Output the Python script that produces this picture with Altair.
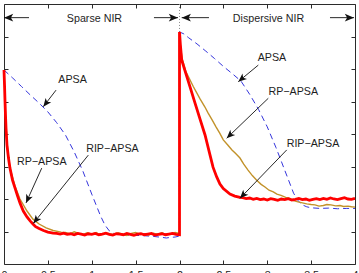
import math
import altair as alt
import pandas as pd

# Plot area size (pixels) and scale domains
W, H = 351, 260
X_DOMAIN = [0, 4]
Y_DOMAIN = [0, 8]
x_ticks = [0, 0.5, 1, 1.5, 2, 2.5, 3, 3.5, 4]
y_ticks = [1, 2, 3, 4, 5, 6, 7]

# ---- APSA (blue dashed) ----
apsa_t = [0.00, 0.10, 0.20, 0.30, 0.40, 0.50, 0.60, 0.70, 0.80, 0.90, 1.00, 1.10,
          1.15, 1.20, 1.25, 1.30, 1.40, 1.50, 1.60, 1.70, 1.80, 1.85, 1.90, 1.95, 2.00,
          2.00, 2.05, 2.10, 2.20, 2.30, 2.40, 2.50, 2.60, 2.70, 2.80, 2.90, 3.00, 3.10,
          3.20, 3.30, 3.35, 3.40, 3.45, 3.50, 3.60, 3.70, 3.80, 3.90, 4.00]
apsa_v = [5.97, 5.72, 5.46, 5.20, 4.95, 4.68, 4.35, 3.97, 3.45, 2.85, 2.15, 1.48,
          1.20, 1.02, 0.94, 0.91, 0.89, 0.88, 0.87, 0.85, 0.82, 0.80, 0.82, 0.83, 0.86,
          7.14, 7.08, 6.97, 6.77, 6.55, 6.32, 6.08, 5.86, 5.63, 5.22, 4.76, 4.22, 3.58,
          2.88, 2.18, 1.95, 1.82, 1.76, 1.73, 1.71, 1.72, 1.70, 1.71, 1.71]

# ---- RP-APSA (gold, noisy) ----
rp_t = [0.000, 0.006, 0.011, 0.017, 0.023, 0.040, 0.068, 0.125, 0.182, 0.262, 0.330,
        0.400, 0.480, 0.560, 0.650,
        0.70, 0.75, 0.80, 0.85, 0.90, 0.95, 1.00, 1.05, 1.10, 1.15, 1.20, 1.25, 1.30,
        1.35, 1.40, 1.45, 1.50, 1.55, 1.60, 1.65, 1.70, 1.75, 1.80, 1.85, 1.90, 1.95, 2.00,
        2.000, 2.010, 2.028, 2.074, 2.157, 2.234, 2.290, 2.325, 2.370, 2.416, 2.460, 2.499,
        2.550, 2.598, 2.640, 2.689, 2.730, 2.781, 2.830, 2.880, 2.930, 2.974, 3.020, 3.069,
        3.110, 3.157, 3.210, 3.259, 3.300, 3.350, 3.400, 3.450, 3.500, 3.544, 3.590, 3.639,
        3.680, 3.726, 3.780, 3.829, 3.870, 3.920, 3.960, 4.000]
rp_v = [5.97, 5.48, 5.02, 4.62, 4.25, 3.57, 2.95, 2.40, 2.00, 1.63, 1.38,
        1.23, 1.11, 1.03, 0.98,
        0.97, 0.93, 0.99, 0.94, 0.91, 0.96, 0.92, 0.97, 0.89, 0.95, 0.93, 0.90, 0.96,
        0.92, 0.88, 0.94, 0.97, 0.91, 0.93, 0.89, 0.95, 0.92, 0.96, 0.90, 0.93, 0.97, 0.94,
        7.14, 6.74, 6.34, 5.91, 5.46, 5.08, 4.83, 4.65, 4.44, 4.22, 4.02, 3.82,
        3.66, 3.51, 3.40, 3.26, 3.08, 2.89, 2.72, 2.58, 2.45, 2.37, 2.27, 2.22,
        2.15, 2.11, 2.05, 2.02, 1.95, 1.91, 1.88, 1.85, 1.83, 1.82, 1.78, 1.80,
        1.83, 1.82, 1.79, 1.80, 1.77, 1.78, 1.76, 1.75]

# ---- RIP-APSA (red, thick) ----
rip_t = [0.000, 0.006, 0.011, 0.017, 0.023, 0.034, 0.051, 0.068, 0.097, 0.125, 0.155,
         0.182, 0.220, 0.262, 0.300, 0.330, 0.360, 0.400, 0.450, 0.500, 0.560,
         0.60, 0.64, 0.68, 0.72, 0.76, 0.80, 0.84, 0.88, 0.92, 0.96, 1.00, 1.04, 1.08,
         1.12, 1.16, 1.20, 1.24, 1.28, 1.32, 1.36, 1.40, 1.44, 1.48, 1.52, 1.56, 1.60,
         1.64, 1.68, 1.72, 1.76, 1.80, 1.84, 1.88, 1.92, 1.96, 2.00,
         2.000, 2.010, 2.025, 2.063, 2.120, 2.177, 2.234, 2.291, 2.348, 2.382, 2.424,
         2.461, 2.499, 2.575, 2.630, 2.689,
         2.72, 2.76, 2.80, 2.84, 2.88, 2.92, 2.96, 3.00, 3.04, 3.08, 3.12, 3.16, 3.20,
         3.24, 3.28, 3.32, 3.36, 3.40, 3.44, 3.48, 3.52, 3.56, 3.60, 3.64, 3.68, 3.72,
         3.76, 3.80, 3.84, 3.88, 3.92, 3.96, 4.00]
rip_v = [5.97, 5.51, 5.05, 4.58, 4.18, 3.66, 3.26, 2.95, 2.58, 2.34, 2.09,
         1.88, 1.63, 1.45, 1.32, 1.23, 1.15, 1.09, 1.03, 0.98, 0.95,
         0.94, 0.92, 0.95, 0.91, 0.93, 0.90, 0.94, 0.92, 0.89, 0.93, 0.91, 0.94, 0.90,
         0.92, 0.95, 0.91, 0.89, 0.93, 0.92, 0.90, 0.94, 0.91, 0.88, 0.92, 0.93, 0.90,
         0.92, 0.94, 0.89, 0.91, 0.93, 0.90, 0.92, 0.94, 0.91, 0.90,
         7.14, 6.74, 6.28, 5.94, 5.45, 4.95, 4.46, 3.97, 3.35, 2.98, 2.68,
         2.46, 2.32, 2.15, 2.09, 2.05,
         2.04, 2.01, 2.03, 1.99, 2.02, 1.98, 2.00, 1.97, 2.01, 1.99, 1.96, 2.00, 1.98,
         2.01, 1.97, 1.99, 2.02, 1.98, 2.00, 1.96, 1.99, 2.01, 1.98, 2.02, 1.99, 2.03,
         2.00, 1.98, 2.01, 2.04, 2.00, 1.99, 2.02]

# ---- Annotations: label position, arrow tail, arrow tip ----
ann_text = ["APSA", "RP\u2212APSA", "RIP\u2212APSA", "APSA", "RP\u2212APSA", "RIP\u2212APSA"]
ann_tx = [0.781, 0.430, 1.236, 3.054, 3.297, 3.521]
ann_ty = [5.66, 3.15, 3.53, 6.33, 5.30, 3.69]
ann_x1 = [0.593, 0.430, 0.961, 2.898, 3.012, 3.222]
ann_y1 = [5.35, 2.95, 3.35, 6.12, 5.10, 3.51]
ann_x2 = [0.448, 0.251, 0.334, 2.670, 2.538, 2.689]
ann_y2 = [4.84, 1.88, 1.25, 5.61, 3.87, 2.02]

# ---- Region headers with span arrows ----
region_text = ["Sparse NIR", "Dispersive NIR"]
region_x = [1.031, 3.014]
region_y = [7.55, 7.55]
span_x1 = [0.285, 1.709, 2.336, 3.715]
span_x2 = [0.000, 1.983, 2.025, 3.989]
span_y = [7.58, 7.58, 7.58, 7.58]
divider_x = [2.0]
divider_y = [7.14]
divider_y2 = [8.0]

# pixel per data unit, used to orient the arrow heads
KX = W / (X_DOMAIN[1] - X_DOMAIN[0])
KY = H / (Y_DOMAIN[1] - Y_DOMAIN[0])


def head_angle(x1, y1, x2, y2):
    return math.degrees(math.atan2(-(y2 - y1) * KY, (x2 - x1) * KX)) % 360


def series_frame(ts, vs):
    return pd.DataFrame({"t": ts, "v": vs, "i": list(range(len(ts)))})


arrows = pd.DataFrame({
    "x1": ann_x1 + span_x1,
    "y1": ann_y1 + span_y,
    "x2": ann_x2 + span_x2,
    "y2": ann_y2 + span_y,
})
arrows["ang"] = [head_angle(a, b, c, d) for a, b, c, d in
                 zip(arrows.x1, arrows.y1, arrows.x2, arrows.y2)]
arrows["size"] = [70] * len(ann_x1) + [85] * len(span_x1)

labels = pd.DataFrame({
    "x": ann_tx + region_x,
    "y": ann_ty + region_y,
    "label": ann_text + region_text,
})

xs = alt.Scale(domain=X_DOMAIN, nice=False, zero=False)
ys = alt.Scale(domain=Y_DOMAIN, nice=False, zero=False)

FRAME = "#2b2b2b"
FONT = "Liberation Sans"

ax_bottom = alt.Axis(orient="bottom", values=x_ticks, offset=-4, tickSize=4, domain=False,
                     grid=False, title=None, format="~g", labelFlush=False,
                     labelOverlap=False, labelPadding=6)
ax_top = alt.Axis(orient="top", values=x_ticks, offset=-4, tickSize=4, domain=False,
                  grid=False, title=None, labels=False)
ax_left = alt.Axis(orient="left", values=y_ticks, offset=-4, tickSize=4, domain=False,
                   grid=False, title=None, labels=False)
ax_right = alt.Axis(orient="right", values=y_ticks, offset=-4, tickSize=4, domain=False,
                    grid=False, title=None, labels=False)

divider = alt.Chart(pd.DataFrame({"x": divider_x, "y": divider_y, "y2": divider_y2})).mark_rule(
    color="#8a8a8a", strokeWidth=1, strokeDash=[1, 2]
).encode(
    x=alt.X("x:Q", scale=xs, axis=None),
    y=alt.Y("y:Q", scale=ys, axis=None),
    y2="y2:Q",
)

apsa = alt.Chart(series_frame(apsa_t, apsa_v)).mark_line(
    color="#3535dc", strokeWidth=1, strokeDash=[6, 4]
).encode(
    x=alt.X("t:Q", scale=xs, axis=ax_bottom),
    y=alt.Y("v:Q", scale=ys, axis=ax_left),
    order="i:Q",
)

rp = alt.Chart(series_frame(rp_t, rp_v)).mark_line(
    color="#c2922a", strokeWidth=1.4
).encode(
    x=alt.X("t:Q", scale=xs, axis=None),
    y=alt.Y("v:Q", scale=ys, axis=None),
    order="i:Q",
)

rip = alt.Chart(series_frame(rip_t, rip_v)).mark_line(
    color="#ff0000", strokeWidth=2.8
).encode(
    x=alt.X("t:Q", scale=xs, axis=None),
    y=alt.Y("v:Q", scale=ys, axis=None),
    order="i:Q",
)

shafts = alt.Chart(arrows).mark_rule(color="#111111", strokeWidth=0.9).encode(
    x=alt.X("x1:Q", scale=xs, axis=None),
    y=alt.Y("y1:Q", scale=ys, axis=None),
    x2="x2:Q",
    y2="y2:Q",
)

heads = alt.Chart(arrows).mark_point(
    shape="M0,0L-2,-0.85L-1.5,0L-2,0.85Z", filled=True, color="#111111", opacity=1
).encode(
    x=alt.X("x2:Q", scale=xs, axis=None),
    y=alt.Y("y2:Q", scale=ys, axis=None),
    angle=alt.Angle("ang:Q", scale=None),
    size=alt.Size("size:Q", scale=None),
)

texts = alt.Chart(labels).mark_text(
    font=FONT, fontSize=10.7, color="#1e1e1e", baseline="middle", align="center"
).encode(
    x=alt.X("x:Q", scale=xs, axis=ax_top),
    y=alt.Y("y:Q", scale=ys, axis=ax_right),
    text="label:N",
)

chart = alt.layer(divider, apsa, rp, rip, shafts, heads, texts).properties(
    width=W, height=H,
    autosize=alt.AutoSizeParams(type="none"),
    padding={"left": 4, "top": 4, "right": 4, "bottom": 9},
).configure_view(
    stroke=FRAME, strokeWidth=1
).configure_axis(
    tickColor=FRAME, tickWidth=1, labelFont=FONT, labelFontSize=10.7, labelColor="#222222"
)

chart.save("out.html", embed_options={"renderer": "svg", "actions": False})
